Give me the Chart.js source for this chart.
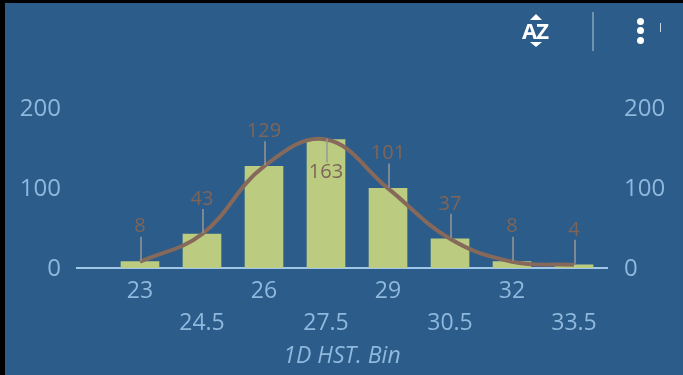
<!DOCTYPE html>
<html>
<head>
<meta charset="utf-8">
<script src="https://cdn.jsdelivr.net/npm/chart.js@4"></script>
<style>
html,body{margin:0;padding:0;background:#000;overflow:hidden}
#wrap{position:absolute;left:5px;top:3px;width:678px;height:372px;background:#2b5c8a;overflow:hidden}
#c{position:absolute;left:-5px;top:-3px}
.ic{position:absolute}
#az{left:515px;top:14px;width:30px;text-align:center;color:#fff;font:700 22px/26px "Open Sans",sans-serif;letter-spacing:-1px}
#up,#dn{left:525px;width:0;height:0;border-left:6px solid transparent;border-right:6px solid transparent}
#up{top:11px;border-bottom:6px solid #fff}
#dn{top:39px;border-top:5px solid #fff}
#sep{left:587px;top:9px;width:2px;height:39px;background:#6f92b3}
.dot{left:632px;width:7px;height:7px;border-radius:50%;background:#fff}
#sliver{left:655px;top:20px;width:1px;height:9px;background:#c9d7e4}
</style>
</head>
<body>
<div id="wrap">
<canvas id="c" width="683" height="375"></canvas>
<div class="ic" id="up"></div><div class="ic" id="az">AZ</div><div class="ic" id="dn"></div>
<div class="ic" id="sep"></div>
<div class="ic dot" style="top:15px"></div><div class="ic dot" style="top:24px"></div><div class="ic dot" style="top:34px"></div>
<div class="ic" id="sliver"></div>
</div>
<script>
const categories=['23','24.5','26','27.5','29','30.5','32','33.5'];
const barValues=[8,43,129,163,101,37,8,4];
const curveValues=[8,43,129,163,101,37,8,4];
const yTicks=[0,100,200];
const axisTitle='1D HST. Bin';
const FONT='"Open Sans",sans-serif';
const TICK='#8fb8dd', LABEL='#7f6558', CURVE='#86695a', BAR='#bbcc80', LEAD='#979797';

const leaderPlugin={id:'leaders',afterDatasetsDraw(chart){
  const {ctx,scales:{x,yData:y}}=chart;
  ctx.save();
  ctx.font='20px '+FONT;ctx.textAlign='center';ctx.textBaseline='middle';
  curveValues.forEach((v,i)=>{
    const px=x.getPixelForValue(i),py=y.getPixelForValue(v)-1;
    const below=v===Math.max(...curveValues);
    ctx.strokeStyle=LEAD;ctx.lineWidth=1.5;
    ctx.beginPath();ctx.moveTo(px+1,py);ctx.lineTo(px+1,below?py+24:py-24);ctx.stroke();
    ctx.fillStyle=LABEL;
    ctx.fillText(String(v),px,below?py+34:py-34);
  });
  ctx.restore();
}};

new Chart(document.getElementById('c'),{
  data:{datasets:[
    {type:'line',order:1,data:curveValues.map((v,i)=>({x:i,y:v})),borderColor:CURVE,borderWidth:4,tension:0.4,pointRadius:0,fill:false,clip:false,yAxisID:'yData'},
    {type:'bar',order:2,data:barValues.map((v,i)=>({x:i,y:v})),backgroundColor:BAR,barThickness:38,borderWidth:0,yAxisID:'yData'}
  ]},
  options:{
    responsive:false,animation:false,
    layout:{padding:0},
    plugins:{legend:{display:false},tooltip:{enabled:false}},
    scales:{
      x:{type:'linear',offset:false,min:-1.016,max:7.532,
        afterBuildTicks(a){a.ticks=categories.map((c,i)=>({value:i}));},
        afterFit(a){a.height=107;},
        grid:{display:false,drawTicks:false,offset:false},
        border:{display:true,color:'#a0c6ea',width:2},
        ticks:{autoSkip:false,maxRotation:0,minRotation:0,padding:7,color:TICK,font:{family:FONT,size:23,lineHeight:1.4},
          callback(v){const i=Math.round(v);return i%2===0?[categories[i],'']:['',categories[i]];}},
        title:{display:true,text:axisTitle,color:TICK,padding:{top:0,bottom:5},font:{family:FONT,size:23,style:'italic'}}
      },
      yData:{display:false,position:'left',min:0,max:203},
      y:{position:'left',min:0,max:200,
        afterBuildTicks(a){a.ticks=yTicks.map(v=>({value:v}));},
        afterFit(a){a.width=77;},
        grid:{display:false,drawTicks:false},border:{display:false},
        ticks:{padding:16,labelOffset:1,color:TICK,font:{family:FONT,size:24}}
      },
      y1:{position:'right',min:0,max:200,
        afterBuildTicks(a){a.ticks=yTicks.map(v=>({value:v}));},
        afterFit(a){a.width=76;},
        grid:{display:false,drawTicks:false},border:{display:false},
        ticks:{padding:17,labelOffset:1,color:TICK,font:{family:FONT,size:24}}
      }
    }
  },
  plugins:[leaderPlugin,{id:'topPad',beforeLayout(c){c.options.layout.padding={top:108};}}]
});
</script>
</body>
</html>
